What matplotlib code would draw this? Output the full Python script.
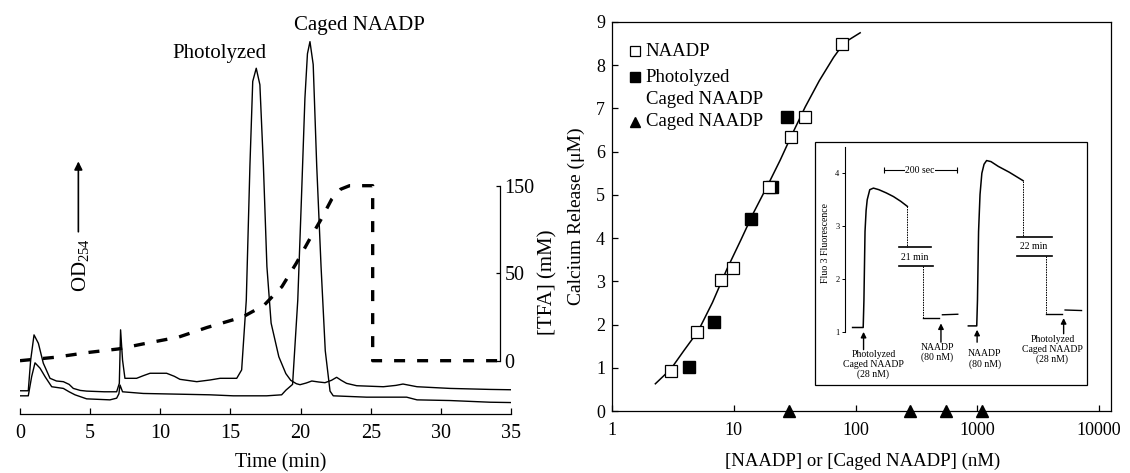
import numpy as np
import matplotlib
matplotlib.use('Agg')
import matplotlib.pyplot as plt
from matplotlib.ticker import NullLocator, FixedLocator, FixedFormatter
from matplotlib.patches import Rectangle

plt.rcParams['font.family'] = ['Liberation Serif', 'DejaVu Serif']
plt.rcParams['mathtext.fontset'] = 'custom'
plt.rcParams['mathtext.rm'] = 'Liberation Serif'
plt.rcParams['mathtext.it'] = 'Liberation Serif:italic'

# ---------------- Panel A: HPLC chromatogram ----------------
# trace with photolyzed peak (arbitrary OD units)
photo_t = [0.0, 0.59, 0.76, 1.0, 1.31, 1.66, 2.14, 2.6, 3.09, 3.5, 3.8, 4.3, 4.75, 6.0, 6.89,
           7.08, 7.17, 7.31, 7.48, 8.31, 8.8, 9.27, 10.45, 11.0, 11.4, 12.6, 13.54, 14.26, 15.45,
           15.8, 16.13, 16.39, 16.59, 16.84, 17.1, 17.35, 17.6, 17.9, 18.45, 18.95, 19.3, 19.7,
           19.96, 20.4, 20.8, 21.3, 21.74, 22.2, 22.57, 22.9, 23.28, 24.0, 25.9, 26.8, 27.3,
           27.8, 28.3, 30.65, 33.5, 35.0]
photo_od = [0.069, 0.069, 0.160, 0.235, 0.210, 0.151, 0.106, 0.098, 0.096, 0.088, 0.076, 0.070,
            0.068, 0.066, 0.066, 0.091, 0.250, 0.160, 0.106, 0.106, 0.114, 0.121, 0.121, 0.112,
            0.103, 0.096, 0.101, 0.106, 0.106, 0.131, 0.338, 0.738, 0.988, 1.027, 0.978, 0.738,
            0.438, 0.270, 0.170, 0.120, 0.100, 0.090, 0.087, 0.092, 0.098, 0.095, 0.093, 0.100,
            0.109, 0.100, 0.091, 0.084, 0.081, 0.085, 0.089, 0.085, 0.081, 0.076, 0.073, 0.072]
# trace with caged peak
caged_t = [0.0, 0.59, 0.70, 0.83, 1.07, 1.43, 1.8, 2.26, 3.09, 3.5, 3.92, 4.75, 6.41, 6.89,
           7.05, 7.13, 7.31, 8.79, 11.17, 13.54, 15.2, 17.58, 18.65, 18.96, 19.43, 19.8, 20.06,
           20.31, 20.49, 20.67, 20.9, 21.15, 21.46, 21.76, 22.1, 22.33, 24.7, 27.56, 28.3,
           30.65, 33.5, 35.0]
caged_od = [0.054, 0.054, 0.080, 0.111, 0.152, 0.136, 0.110, 0.081, 0.076, 0.066, 0.057, 0.045,
            0.042, 0.047, 0.060, 0.086, 0.066, 0.061, 0.059, 0.057, 0.054, 0.054, 0.057, 0.071,
            0.088, 0.338, 0.638, 0.938, 1.070, 1.106, 1.038, 0.738, 0.438, 0.188, 0.068, 0.054,
            0.050, 0.050, 0.042, 0.040, 0.035, 0.034]
# TFA gradient (mM)
tfa_t = [0, 2.44, 4.97, 7.0, 8.78, 11.31, 13.34, 15.88, 17.4, 18.67, 19.7, 20.7, 21.46, 22.22,
         22.86, 23.49, 25.14, 25.14, 34.25]
tfa_mm = [0, 1.9, 4.8, 6.7, 9.6, 13.5, 19, 25, 31.7, 42.3, 61.5, 90.4, 111.5, 134.6, 146, 150,
          150, 0, 0]
time_ticks = [0, 5, 10, 15, 20, 25, 30, 35]
tfa_ticks = [0, 50, 150]

# ---------------- Panel B: dose response ----------------
naadp_conc = [3.04, 5.03, 7.9, 9.86, 19.6, 29.4, 38.5, 76.9]
naadp_ca = [0.92, 1.82, 3.04, 3.31, 5.19, 6.34, 6.80, 8.50]
photo_conc = [4.25, 6.9, 13.8, 20.7, 27.5]
photo_ca = [1.01, 2.05, 4.44, 5.19, 6.80]
cagedB_conc = [28.4, 280, 557, 1091]
cagedB_ca = [0, 0, 0, 0]
fit_conc = [2.27, 3.04, 3.90, 5.10, 6.68, 8.74, 11.44, 14.48, 19.6, 24.0, 29.4, 38.5, 50.3,
            65.9, 80.5, 109]
fit_ca = [0.63, 0.97, 1.40, 1.85, 2.51, 3.27, 3.96, 4.58, 5.30, 5.80, 6.34, 7.03, 7.64, 8.18,
          8.52, 8.75]
conc_ticks = [1, 10, 100, 1000, 10000]
conc_labels = ['1', '10', '100', '1000', '10000']

# ---------------- Inset: Fluo-3 traces (time in s) ----------------
ins1_t = [21, 50, 52, 55, 58, 61, 68, 78, 93, 113, 133, 153, 171]
ins1_f = [1.09, 1.09, 1.6, 2.9, 3.3, 3.5, 3.69, 3.72, 3.69, 3.63, 3.56, 3.47, 3.375]
ins2_t = [338, 361, 363, 366, 370, 375, 381, 388, 400, 420, 450, 488]
ins2_f = [1.12, 1.12, 1.6, 2.9, 3.6, 4.0, 4.17, 4.24, 4.22, 4.13, 4.02, 3.86]
ins1b_t = [214, 258]
ins1b_f = [1.27, 1.27]
ins1c_t = [267, 309]
ins1c_f = [1.33, 1.34]
ins2b_t = [551, 594]
ins2b_f = [1.35, 1.35]
ins2c_t = [603, 648]
ins2c_f = [1.42, 1.41]

fig = plt.figure(figsize=(11.3, 4.73), dpi=100)
W, H = 1130.0, 473.0

# ===== Panel A =====
axA = fig.add_axes([20 / W, 59 / H, 491 / W, 404 / H])
axA.plot(photo_t, photo_od, color='black', lw=1.0)
axA.plot(caged_t, caged_od, color='black', lw=1.0)
axA.set_xlim(0, 35)
axA.set_ylim(0, 1.2)
for s in ['left', 'top', 'right']:
    axA.spines[s].set_visible(False)
axA.spines['bottom'].set_linewidth(0.9)
axA.set_yticks([])
axA.set_xticks(time_ticks)
axA.tick_params(axis='x', direction='in', length=4, width=0.9, labelsize=14.5, pad=7)
axA.text(0.531, -0.121, 'Time (min)', transform=axA.transAxes, ha='center', va='center',
         fontsize=14.5)
axA.text(14.2, 1.072, 'Photolyzed', ha='center', va='center', fontsize=15)
axA.text(24.2, 1.155, 'Caged NAADP', ha='center', va='center', fontsize=15)
axA.text(4.34, 0.441, r'OD$_{254}$', rotation=90, ha='center', va='center', fontsize=15)
axA.annotate('', xy=(4.16, 0.7585), xytext=(4.16, 0.533),
             arrowprops=dict(arrowstyle='-|>', lw=1.2, color='black', mutation_scale=12))

def fwd(v):
    v = np.asarray(v, dtype=float)
    return np.where(v <= 50, v / 50.0, 1.0 + (v - 50.0) / 100.0)

def inv(s):
    s = np.asarray(s, dtype=float)
    return np.where(s <= 1, 50.0 * s, 50.0 + 100.0 * (s - 1.0))

axT = axA.twinx()
axT.set_yscale('function', functions=(fwd, inv))
axT.set_ylim(-30.46, 350.8)
axT.plot(tfa_t, tfa_mm, color='black', lw=2.4, linestyle=(0, (3.3, 3.6)))
for s in ['left', 'top', 'bottom']:
    axT.spines[s].set_visible(False)
axT.spines['right'].set_position(('axes', 34.25 / 35))
axT.spines['right'].set_bounds(0, 150)
axT.spines['right'].set_linewidth(0.9)
axT.yaxis.set_major_locator(FixedLocator(tfa_ticks))
axT.yaxis.set_major_formatter(FixedFormatter([str(v) for v in tfa_ticks]))
axT.yaxis.set_minor_locator(NullLocator())
axT.tick_params(axis='y', direction='in', length=3, width=0.9, labelsize=14.5, pad=3)
fig.text(548 / W, 1 - 282 / H, '[TFA] (mM)', rotation=90, ha='center', va='center',
         fontsize=15)

# ===== Panel B =====
axB = fig.add_axes([612 / W, 62 / H, 499 / W, 389 / H])
axB.set_xscale('log')
axB.plot(fit_conc, fit_ca, color='black', lw=1.1, zorder=2)
axB.plot(photo_conc, photo_ca, linestyle='none', marker='s', ms=8.5, color='black', zorder=3)
axB.plot(naadp_conc, naadp_ca, linestyle='none', marker='s', ms=9.2, mfc='white',
         mec='black', mew=0.9, zorder=4)
axB.plot(cagedB_conc, cagedB_ca, linestyle='none', marker='^', ms=8.5, color='black',
         clip_on=False, zorder=5)
axB.set_xlim(1, 12500)
axB.set_ylim(0, 9)
axB.xaxis.set_major_locator(FixedLocator(conc_ticks))
axB.xaxis.set_major_formatter(FixedFormatter(conc_labels))
axB.xaxis.set_minor_locator(NullLocator())
axB.set_yticks(range(0, 10))
axB.tick_params(axis='both', direction='in', length=4, width=0.9, labelsize=13)
axB.tick_params(axis='x', pad=8)
axB.tick_params(axis='y', pad=5)
for s in axB.spines.values():
    s.set_linewidth(0.9)
axB.text(-0.0707, 0.5, 'Calcium Release (\u03bcM)', rotation=90, transform=axB.transAxes,
         ha='center', va='center', fontsize=14)
axB.text(0.5026, -0.129, '[NAADP] or [Caged NAADP] (nM)', transform=axB.transAxes,
         ha='center', va='center', fontsize=13.5)

# manual legend
mx, tx = 0.0453, 0.0673
axB.plot([mx], [0.9254], transform=axB.transAxes, marker='s', ms=7, mfc='white',
         mec='black', mew=0.9, clip_on=False)
axB.plot([mx], [0.8586], transform=axB.transAxes, marker='s', ms=7, color='black',
         clip_on=False)
axB.plot([mx], [0.743], transform=axB.transAxes, marker='^', ms=7.5, color='black',
         clip_on=False)
for yy, txt in [(0.9254, 'NAADP'), (0.8586, 'Photolyzed'), (0.802, 'Caged NAADP'),
                (0.743, 'Caged NAADP')]:
    axB.text(tx, yy, txt, transform=axB.transAxes, ha='left', va='center', fontsize=13.5)

# ===== Inset =====
ins = fig.add_axes([815 / W, (H - 384.6) / H, 272 / W, 242.6 / H])
ins.set_xlim(-82, 663)
ins.set_ylim(0.0125, 4.59)
for s in ['top', 'right', 'bottom']:
    ins.spines[s].set_visible(False)
ins.add_patch(Rectangle((0, 0), 1, 1, transform=ins.transAxes, fill=False, lw=0.9,
                        edgecolor='black', clip_on=False))
ins.spines['left'].set_position(('data', 0))
ins.spines['left'].set_bounds(1, 4.5)
ins.spines['left'].set_linewidth(0.8)
ins.set_xticks([])
ins.set_yticks([1, 2, 3, 4])
ins.tick_params(axis='y', direction='out', length=2.5, width=0.7, labelsize=6, pad=1.5)
ins.text(-52, 2.69, 'Fluo 3 Fluorescence', rotation=90, ha='center', va='center', fontsize=7)

ins.plot(ins1_t, ins1_f, color='black', lw=1.1)
ins.plot(ins2_t, ins2_f, color='black', lw=1.1)
for tt, ff in [(ins1b_t, ins1b_f), (ins1c_t, ins1c_f), (ins2b_t, ins2b_f), (ins2c_t, ins2c_f)]:
    ins.plot(tt, ff, color='black', lw=1.0)

dash = (0, (1.6, 1.0))
ins.plot([171, 171], [3.375, 2.6], color='black', lw=0.7, linestyle=dash)
ins.plot([214, 214], [2.25, 1.27], color='black', lw=0.7, linestyle=dash)
ins.plot([488, 488], [3.86, 2.80], color='black', lw=0.7, linestyle=dash)
ins.plot([551, 551], [2.43, 1.35], color='black', lw=0.7, linestyle=dash)
for x0, x1, yy in [(148, 236, 2.6), (148, 240, 2.25), (472, 566, 2.80), (472, 566, 2.43)]:
    ins.plot([x0, x1], [yy, yy], color='black', lw=1.2)
ins.text(192, 2.41, '21 min', ha='center', va='center', fontsize=7)
ins.text(518, 2.615, '22 min', ha='center', va='center', fontsize=7)

ins.plot([106, 306], [4.06, 4.06], color='black', lw=0.8, marker='|', ms=4, mew=0.8)
ins.text(206, 4.06, '200 sec', ha='center', va='center', fontsize=7,
         bbox=dict(facecolor='white', edgecolor='none', pad=0.3))

for xa, y0, y1 in [(51, 0.62, 1.06), (263, 0.76, 1.22), (362, 0.76, 1.10), (599, 0.92, 1.32)]:
    ins.annotate('', xy=(xa, y1), xytext=(xa, y0),
                 arrowprops=dict(arrowstyle='-|>', lw=1.0, color='black', mutation_scale=8))

ins.text(78, 0.39, 'Photolyzed\nCaged NAADP\n(28 nM)', ha='center', va='center', fontsize=7,
         linespacing=1.15)
ins.text(253, 0.62, 'NAADP\n(80 nM)', ha='center', va='center', fontsize=7, linespacing=1.15)
ins.text(383, 0.50, 'NAADP\n(80 nM)', ha='center', va='center', fontsize=7, linespacing=1.15)
ins.text(568, 0.675, 'Photolyzed\nCaged NAADP\n(28 nM)', ha='center', va='center', fontsize=7,
         linespacing=1.15)

fig.savefig('out.png', dpi=100)
